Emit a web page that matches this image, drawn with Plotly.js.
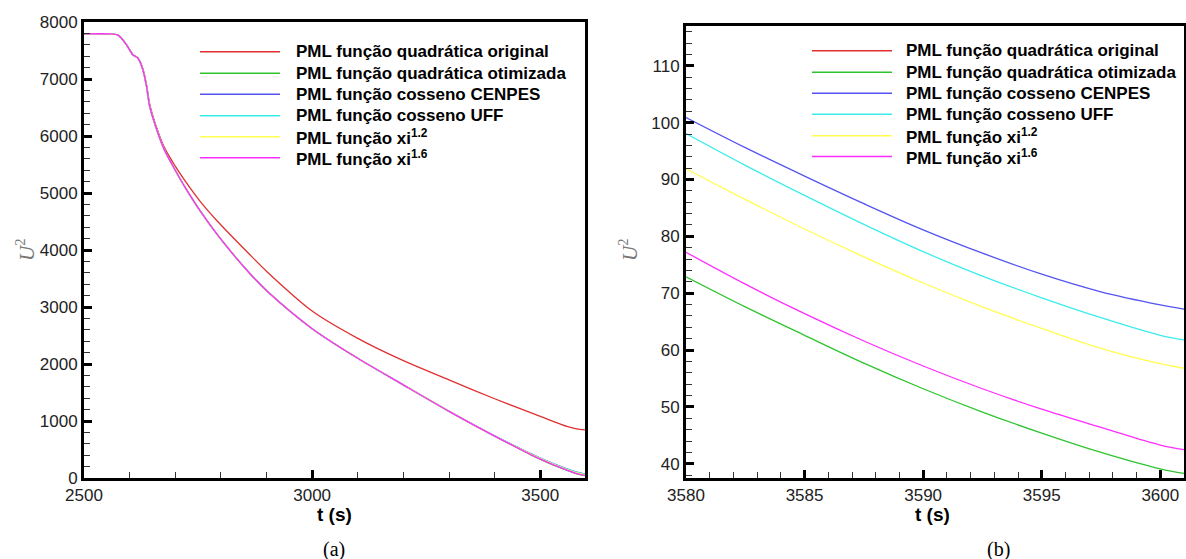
<!DOCTYPE html>
<html>
<head>
<meta charset="utf-8">
<script src="https://cdn.plot.ly/plotly-3.0.1.min.js"></script>
<style>html,body{margin:0;padding:0;background:#fff;}#chart{width:1186px;height:559px;}</style>
</head>
<body>
<div id="chart"></div>
<script>
// ---------- DATA ----------
const seriesNames = [
  "PML função quadrática original",
  "PML função quadrática otimizada",
  "PML função cosseno CENPES",
  "PML função cosseno UFF",
  "PML função xi<sup>1.2</sup>",
  "PML função xi<sup>1.6</sup>"
];
const seriesColors = ["#e03030", "#2ec42e", "#5454f0", "#3cecec", "#ffff50", "#ff2cff"];

// Panel (a): full time range
const tA = [2500, 2560, 2575, 2593, 2607, 2618, 2629, 2637, 2644, 2657, 2676, 2700, 2720, 2755, 2793, 2862, 2901, 3000, 3100, 3194, 3300, 3400, 3500, 3560, 3580, 3598];
const aOriginal  = [7790, 7790, 7770, 7602, 7426, 7368, 7180, 6900, 6560, 6200, 5800, 5470, 5230, 4850, 4500, 3930, 3620, 2930, 2450, 2080, 1720, 1390, 1080, 900, 860, 845];
const aOtimizada = [7790, 7790, 7770, 7602, 7426, 7368, 7163, 6870, 6519, 6168, 5761, 5400, 5120, 4680, 4260, 3600, 3280, 2620, 2100, 1660, 1170, 735, 325, 128, 73, 41];
const aCenpes    = [7790, 7790, 7770, 7602, 7426, 7368, 7163, 6870, 6519, 6168, 5761, 5400, 5120, 4680, 4260, 3600, 3280, 2620, 2100, 1660, 1170, 740, 350, 155, 101, 69];
const aUff       = [7790, 7790, 7770, 7602, 7426, 7368, 7163, 6870, 6519, 6168, 5761, 5400, 5120, 4680, 4260, 3600, 3280, 2620, 2100, 1660, 1170, 738, 345, 150, 98, 64];
const aXi12      = [7790, 7790, 7770, 7602, 7426, 7368, 7163, 6870, 6519, 6168, 5761, 5400, 5120, 4680, 4260, 3600, 3280, 2620, 2100, 1660, 1170, 737, 340, 145, 92, 59];
const aXi16      = [7790, 7790, 7770, 7602, 7426, 7368, 7163, 6870, 6519, 6168, 5761, 5400, 5120, 4680, 4260, 3600, 3280, 2620, 2100, 1660, 1170, 735, 330, 132, 77, 45];

// Panel (b): zoom on the end
const tB = [3580, 3582.5, 3585, 3587.5, 3590, 3592.5, 3595, 3597.5, 3600, 3601];
const bOriginal  = [860, 858, 857, 855, 853, 851, 849, 847, 846, 845];
const bOtimizada = [72.9, 67.6, 62.6, 57.7, 53.2, 49.1, 45.4, 42.0, 39.1, 38.3];
const bCenpes    = [100.9, 95.6, 90.6, 85.75, 81.15, 77.05, 73.35, 70.25, 67.95, 67.2];
const bUff       = [98.1, 92.5, 87.2, 82.1, 77.3, 73.0, 69.2, 65.7, 62.6, 61.8];
const bXi12      = [91.9, 86.5, 81.3, 76.4, 71.8, 67.6, 63.8, 60.3, 57.6, 56.8];
const bXi16      = [77.2, 71.6, 66.4, 61.6, 57.2, 53.2, 49.6, 46.4, 43.3, 42.5];

const ticksAX = [2500, 3000, 3500];
const ticksAY = [0, 1000, 2000, 3000, 4000, 5000, 6000, 7000, 8000];
const ticksBX = [3580, 3585, 3590, 3595, 3600];
const ticksBY = [40, 50, 60, 70, 80, 90, 100, 110];

// ---------- BUILD ----------
const W = 1186, H = 559;
const px = x => x / W;
const py = y => 1 - y / H;

const aSeries = [aOriginal, aOtimizada, aCenpes, aUff, aXi12, aXi16];
const bSeries = [bOriginal, bOtimizada, bCenpes, bUff, bXi12, bXi16];

const traces = [];
aSeries.forEach((ys, i) => traces.push({
  x: tA, y: ys, type: 'scatter', mode: 'lines', name: seriesNames[i],
  line: {color: seriesColors[i], width: 1.3, shape: 'spline', smoothing: 0.8},
  xaxis: 'x', yaxis: 'y', showlegend: false, hoverinfo: 'skip'
}));
bSeries.forEach((ys, i) => traces.push({
  x: tB, y: ys, type: 'scatter', mode: 'lines', name: seriesNames[i],
  line: {color: seriesColors[i], width: 1.3, shape: 'spline', smoothing: 1},
  xaxis: 'x2', yaxis: 'y2', showlegend: false, hoverinfo: 'skip'
}));

const sans = 'Liberation Sans';
const tickFont = {family: sans, size: 17, color: '#222'};
function axis(extra) {
  return Object.assign({
    showgrid: false, zeroline: false, showline: true, linecolor: '#000', linewidth: 3,
    mirror: true, ticks: 'inside', ticklen: 8, tickwidth: 3, tickcolor: '#000',
    tickfont: tickFont, fixedrange: true
  }, extra);
}

const layout = {
  width: W, height: H,
  margin: {l: 0, r: 0, t: 0, b: 0},
  paper_bgcolor: '#fff', plot_bgcolor: '#fff',
  showlegend: false,
  xaxis: axis({domain: [px(84), px(585)], range: [2500, 3598], tickvals: ticksAX, anchor: 'y',
    minor: {ticks: 'inside', ticklen: 6, tickwidth: 1, tickcolor: '#333', dtick: 100}}),
  yaxis: axis({domain: [py(478), py(22)], range: [0, 8000], tickvals: ticksAY, anchor: 'x',
    minor: {ticks: 'inside', ticklen: 6, tickwidth: 1, tickcolor: '#333', dtick: 200}}),
  xaxis2: axis({domain: [px(686), px(1184)], range: [3580, 3601], tickvals: ticksBX, anchor: 'y2',
    minor: {ticks: 'inside', ticklen: 6, tickwidth: 1, tickcolor: '#333', dtick: 1}}),
  yaxis2: axis({domain: [py(478), py(26)], range: [37.5, 117], tickvals: ticksBY, anchor: 'x2',
    minor: {ticks: 'inside', ticklen: 6, tickwidth: 1, tickcolor: '#333', dtick: 2}}),
  shapes: [],
  annotations: []
};

// Legends (drawn as line samples + text)
const legendA = {x0: 200, x1: 280, tx: 294, rows: [51.7, 73.3, 94.3, 115.7, 136.7, 157.7]};
const legendB = {x0: 812, x1: 892, tx: 904, rows: [50.7, 72.3, 93.3, 114.3, 135.7, 156.5]};
[legendA, legendB].forEach(L => {
  seriesNames.forEach((nm, i) => {
    layout.shapes.push({type: 'line', xref: 'paper', yref: 'paper',
      x0: px(L.x0), x1: px(L.x1), y0: py(L.rows[i]), y1: py(L.rows[i]),
      line: {color: seriesColors[i], width: 1.6}});
    layout.annotations.push({xref: 'paper', yref: 'paper', x: px(L.tx), y: py(L.rows[i]),
      xanchor: 'left', yanchor: 'middle', showarrow: false, text: nm,
      font: {family: sans, size: 17, color: '#000', weight: 'bold'}});
  });
});

// Axis titles and captions
const serif = 'Liberation Serif';
[[25, 250], [628, 250]].forEach(p => layout.annotations.push({
  xref: 'paper', yref: 'paper', x: px(p[0]), y: py(p[1]), xanchor: 'center', yanchor: 'middle',
  showarrow: false, textangle: -90, text: '<i>U</i><sup>2</sup>',
  font: {family: serif, size: 21, color: '#777'}}));
[[334, 514], [932, 514]].forEach(p => layout.annotations.push({
  xref: 'paper', yref: 'paper', x: px(p[0]), y: py(p[1]), xanchor: 'center', yanchor: 'middle',
  showarrow: false, text: 't (s)',
  font: {family: sans, size: 19, color: '#000', weight: 'bold'}}));
[[334, 549, '(a)'], [998, 549, '(b)']].forEach(p => layout.annotations.push({
  xref: 'paper', yref: 'paper', x: px(p[0]), y: py(p[1]), xanchor: 'center', yanchor: 'middle',
  showarrow: false, text: p[2], font: {family: serif, size: 20, color: '#000'}}));

Plotly.newPlot('chart', traces, layout, {staticPlot: true, displayModeBar: false});
</script>
</body>
</html>
